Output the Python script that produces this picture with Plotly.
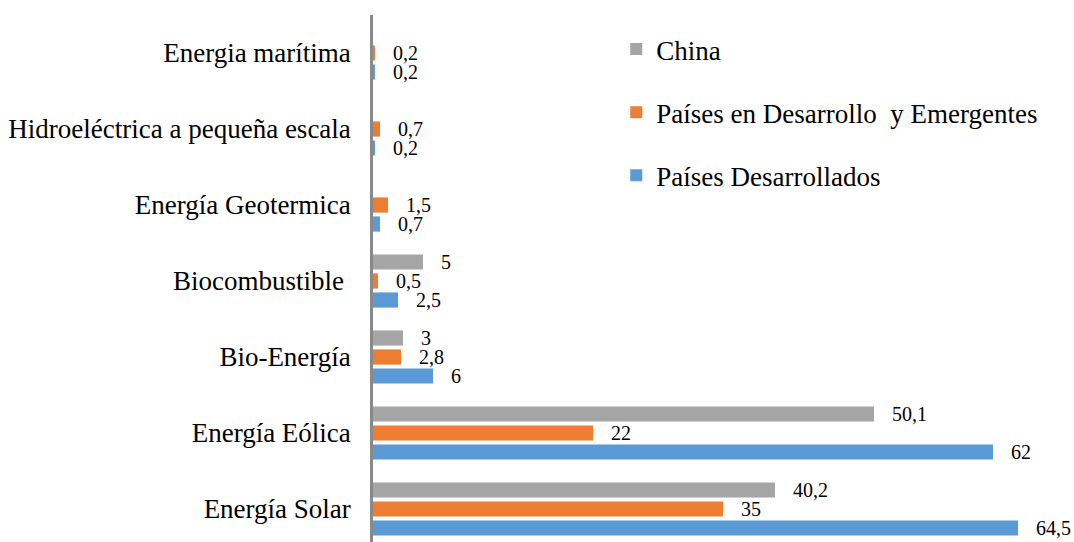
import plotly.graph_objects as go

categories = ["Energía Solar", "Energía Eólica", "Bio-Energía", "Biocombustible\u00a0",
              "Energía Geotermica", "Hidroeléctrica a pequeña escala", "Energia marítima"]
desarrollados = [64.5, 62, 6, 2.5, 0.7, 0.2, 0.2]
emergentes = [35, 22, 2.8, 0.5, 1.5, 0.7, 0.2]
china = [40.2, 50.1, 3, 5, None, None, None]

series = [
    ("Países Desarrollados", desarrollados, "#5B9BD5", 3),
    ("Países en Desarrollo\u00a0 y Emergentes", emergentes, "#ED7D31", 2),
    ("China", china, "#A5A5A5", 1),
]

FONT = "Liberation Serif, Times New Roman, serif"

def fmt(v):
    if v is None:
        return ""
    return "\u00a0\u00a0\u00a0" + f"{v:g}".replace(".", ",")

fig = go.Figure()
for name, vals, col, rank in series:
    fig.add_trace(go.Bar(
        y=categories, x=vals, orientation="h", name=name,
        marker=dict(color=col, line=dict(width=0)),
        text=[fmt(v) for v in vals], textposition="outside",
        textfont=dict(family=FONT, size=20, color="#000000"),
        constraintext="none", cliponaxis=False,
        legendgroup=f"g{rank}", legendrank=rank,
    ))

fig.update_layout(
    width=1074, height=542,
    margin=dict(l=373, r=0, t=15, b=0),
    paper_bgcolor="white", plot_bgcolor="white",
    barmode="group", bargap=0.25, bargroupgap=0.2,
    font=dict(family=FONT, size=27, color="#000000"),
    showlegend=True,
    legend=dict(
        x=0.347, y=0.981, xanchor="left", yanchor="top",
        traceorder="grouped", tracegroupgap=25,
        font=dict(family=FONT, size=27, color="#000000"),
        bgcolor="rgba(0,0,0,0)", itemwidth=30,
    ),
    xaxis=dict(visible=False, range=[0, 70.1], fixedrange=True),
    yaxis=dict(
        type="category", categoryorder="array", categoryarray=categories,
        range=[-0.434, 6.5], automargin=False,
        showline=True, linecolor="#898989", linewidth=2.5,
        showgrid=False, zeroline=False, ticks="",
        ticklabelstandoff=14,
        tickfont=dict(family=FONT, size=27, color="#000000"),
    ),
)

fig.write_html("out.html")
